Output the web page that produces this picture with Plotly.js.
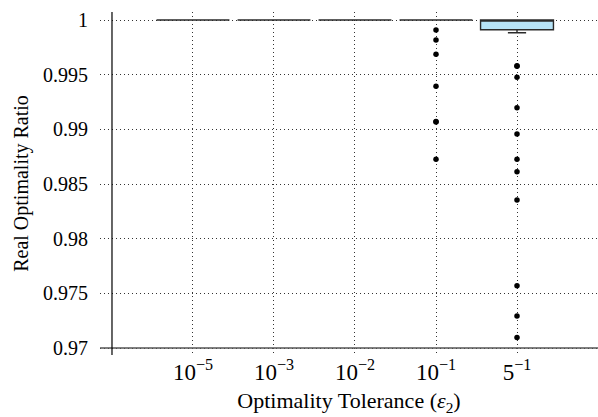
<!DOCTYPE html>
<html>
<head>
<meta charset="utf-8">
<script src="https://cdn.plot.ly/plotly-3.0.1.min.js"></script>
<style>html,body{margin:0;padding:0;background:#fff;}#chart{width:598px;height:417px;}</style>
</head>
<body>
<div id="chart"></div>
<script>
// Categories (optimality tolerance)
const categories = ["10<sup>\u22125</sup>", "10<sup>\u22123</sup>", "10<sup>\u22122</sup>", "10<sup>\u22121</sup>", "5<sup>\u22121</sup>"];
// Box statistics per category
const q1Values = [1, 1, 1, 1, 0.99911];
const medianValues = [1, 1, 1, 1, 1];
const q3Values = [1, 1, 1, 1, 1];
const lowerFence = [1, 1, 1, 1, 0.99884];
const upperFence = [1, 1, 1, 1, 1];
// Outliers
const outliers_1e1 = [0.99909, 0.99817, 0.99686, 0.99394, 0.99072, 0.99066, 0.98726];
const outliers_5e1 = [0.99582, 0.99576, 0.99476, 0.99198, 0.98957, 0.98726, 0.98613, 0.98353, 0.97570, 0.97292, 0.97097];
// Y ticks
const yTickVals = [0.97, 0.975, 0.98, 0.985, 0.99, 0.995, 1];
const yTickText = ["0.97", "0.975", "0.98", "0.985", "0.99", "0.995", "1"];

const font = "Liberation Serif, DejaVu Serif, serif";

const traces = [
  {
    type: "box",
    x: categories,
    q1: q1Values,
    median: medianValues,
    q3: q3Values,
    lowerfence: lowerFence,
    upperfence: upperFence,
    width: 0.9,
    whiskerwidth: 0.25,
    fillcolor: "#b6e3f7",
    line: {color: "#2a2a2a", width: 1.4},
    boxpoints: false,
    showlegend: false,
    hoverinfo: "skip"
  },
  {
    type: "scatter",
    mode: "markers",
    x: outliers_1e1.map(() => categories[3]),
    y: outliers_1e1,
    marker: {color: "#000", size: 5.5},
    showlegend: false
  },
  {
    type: "scatter",
    mode: "markers",
    x: outliers_5e1.map(() => categories[4]),
    y: outliers_5e1,
    marker: {color: "#000", size: 5.5},
    showlegend: false
  }
];

const layout = {
  width: 598,
  height: 417,
  margin: {l: 100, r: 0, t: 12, b: 62},
  paper_bgcolor: "#fff",
  plot_bgcolor: "#fff",
  font: {family: font, size: 20, color: "#000"},
  showlegend: false,
  xaxis: {
    type: "category",
    categoryorder: "array",
    categoryarray: categories,
    range: [-1.148, 5.0],
    showgrid: true,
    gridcolor: "#333",
    griddash: "1px,3px",
    gridwidth: 1,
    zeroline: false,
    showline: false,
    ticks: "",
    tickfont: {family: font, size: 23},
    ticklabelstandoff: 1,
    title: {text: "Optimality Tolerance (<i>\u03b5</i><sub>2</sub>)", font: {family: font, size: 22}, standoff: 8}
  },
  yaxis: {
    range: [0.96936, 1.000732],
    tickvals: yTickVals,
    ticktext: yTickText,
    showgrid: true,
    gridcolor: "#333",
    griddash: "1px,3px",
    gridwidth: 1,
    zeroline: false,
    showline: false,
    ticks: "",
    tickfont: {family: font, size: 20},
    ticklabelstandoff: 11,
    title: {text: "Real Optimality Ratio", font: {family: font, size: 20}, standoff: 9}
  },
  shapes: [
    {type: "line", xref: "paper", yref: "y", x0: 0, x1: 1, y0: 0.97, y1: 0.97, line: {color: "#555", width: 1.5}, layer: "above"},
    {type: "line", xref: "x", yref: "paper", x0: -1, x1: -1, y0: 0, y1: 1, line: {color: "#000", width: 1.2}, layer: "above"}
  ]
};

Plotly.newPlot("chart", traces, layout, {staticPlot: true, displayModeBar: false});
</script>
</body>
</html>
